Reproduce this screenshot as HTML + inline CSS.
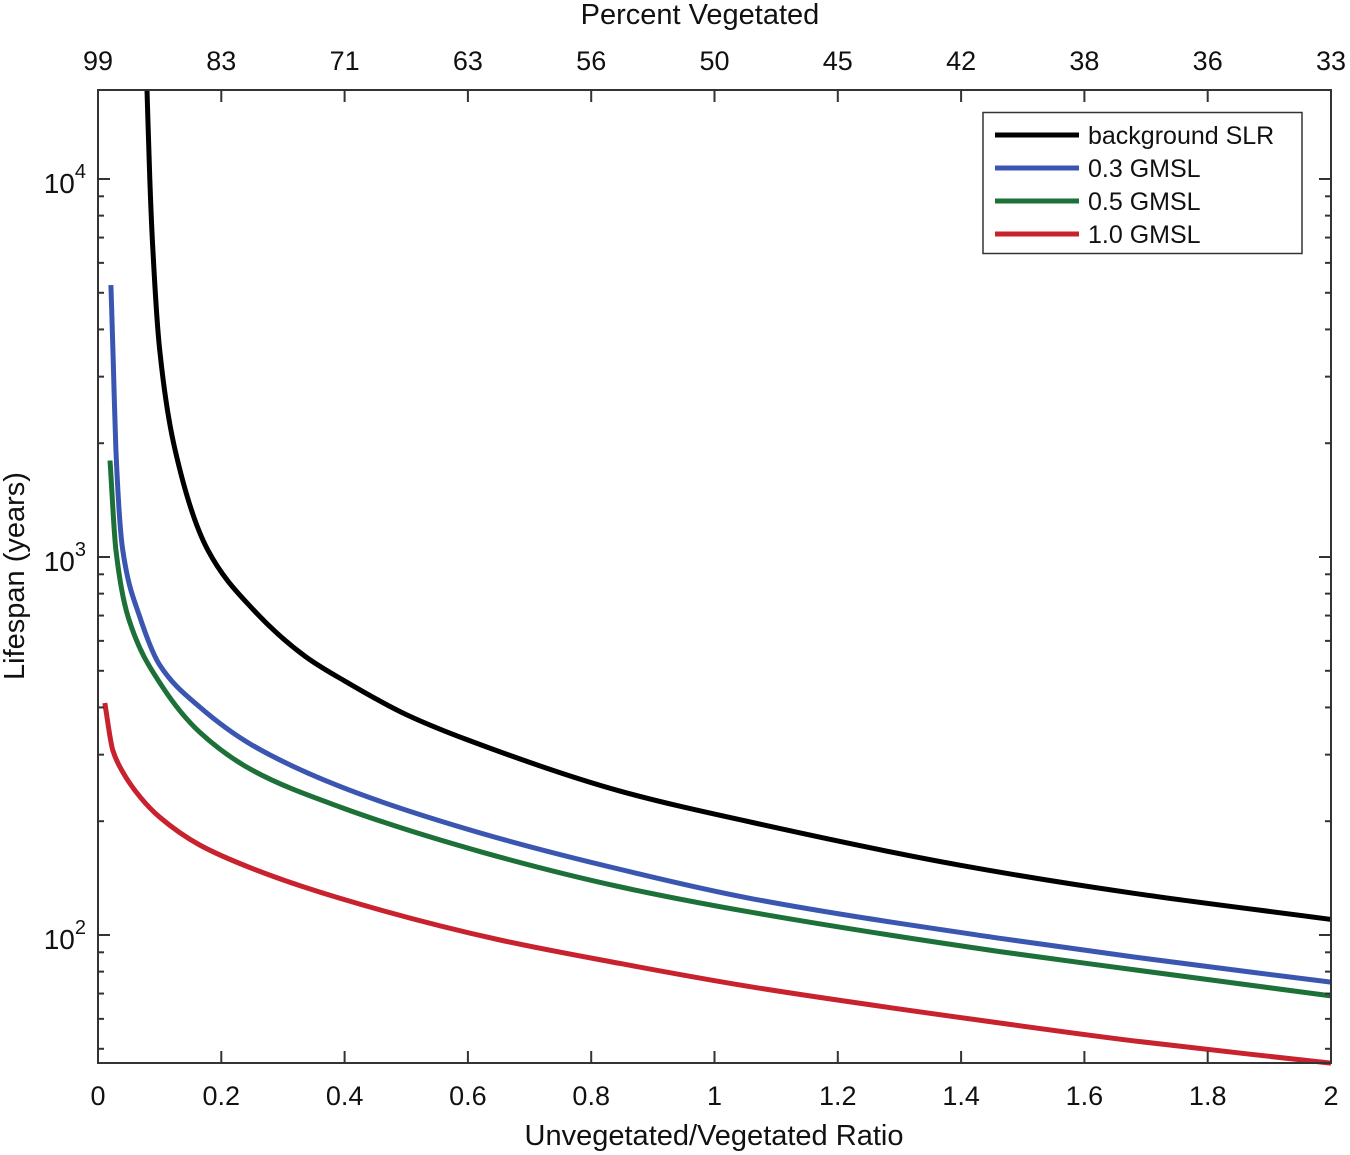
<!DOCTYPE html>
<html><head><meta charset="utf-8"><style>
html,body{margin:0;padding:0;background:#fff;}
svg{display:block;font-family:"Liberation Sans",Arial,sans-serif;}
</style></head><body>
<svg id="chart" width="1350" height="1155" viewBox="0 0 1350 1155" xmlns="http://www.w3.org/2000/svg">
<rect x="0" y="0" width="1350" height="1155" fill="#fff"/>
<g id="series-layer"></g>
<g id="axes-layer"></g>
<text x="700" y="24" font-size="29" text-anchor="middle" fill="#111">Percent Vegetated</text>
<text x="714" y="1145" font-size="29" text-anchor="middle" fill="#111">Unvegetated/Vegetated Ratio</text>
<text transform="translate(24,576) rotate(-90)" font-size="29" text-anchor="middle" fill="#111">Lifespan (years)</text>
<g>
<rect x="983" y="112.5" width="319" height="141" fill="#fff" stroke="#333" stroke-width="1.5"/>
<line x1="995" y1="135" x2="1079" y2="135" stroke="#000" stroke-width="5"/>
<text x="1088" y="144" font-size="25" fill="#111">background SLR</text>
<line x1="995" y1="168" x2="1079" y2="168" stroke="#3a56b0" stroke-width="5"/>
<text x="1088" y="177" font-size="25" fill="#111">0.3 GMSL</text>
<line x1="995" y1="201" x2="1079" y2="201" stroke="#1c7038" stroke-width="5"/>
<text x="1088" y="210" font-size="25" fill="#111">0.5 GMSL</text>
<line x1="995" y1="234" x2="1079" y2="234" stroke="#c8222e" stroke-width="5"/>
<text x="1088" y="243" font-size="25" fill="#111">1.0 GMSL</text>
</g>
</svg>
<script>
const xTicks = [0,0.2,0.4,0.6,0.8,1,1.2,1.4,1.6,1.8,2];
const xTickLabels = ["0","0.2","0.4","0.6","0.8","1","1.2","1.4","1.6","1.8","2"];
const topTickLabels = ["99","83","71","63","56","50","45","42","38","36","33"];
const yDecades = [2,3,4];
const bgX = [0.0795,0.084,0.089,0.1,0.125,0.178,0.25,0.336,0.4,0.5,0.6,0.848,1.058,1.398,1.679,2.0];
const bgY = [17200,10000,6490,3530,1920,1045,731,546,470,383,328,240,199,153,129,110];
const g03X = [0.021,0.025,0.029,0.04,0.068,0.1,0.165,0.25,0.393,0.621,0.848,1.058,1.463,1.679,2.0];
const g03Y = [5240,3185,1920,1045,693,518,401,318,247,186,149,125,98,87.5,75];
const g05X = [0.0195,0.029,0.049,0.104,0.165,0.25,0.393,0.621,0.848,1.058,1.463,1.679,2.0];
const g05Y = [1800,1045,693,455,344,273,218,166,134,115,90.4,81,69];
const g10X = [0.011,0.024,0.04,0.07,0.1,0.165,0.25,0.393,0.652,0.848,1.058,1.463,1.679,2.0];
const g10Y = [411,308,270,230,205,173,150,125,97,84,73,58.5,52.5,45.8];

const L=98,R=1331,T=90,B=1063;
const NS="http://www.w3.org/2000/svg";
function sx(v){return L+(v-0)/(2-0)*(R-L);}
const Y4=179, PX_DEC=378;
function sy(v){return Y4-(Math.log10(v)-4)*PX_DEC;}
function mk(tag,attrs,parent){const e=document.createElementNS(NS,tag);for(const k in attrs)e.setAttribute(k,attrs[k]);parent.appendChild(e);return e;}
const axes=document.getElementById('axes-layer');
const series=document.getElementById('series-layer');

const frame=mk('rect',{x:L,y:T,width:R-L,height:B-T,fill:'none',stroke:'#333','stroke-width':2},axes);



xTicks.forEach((v,i)=>{
  const x=sx(v);
  const t1=mk('line',{x1:x,y1:B,x2:x,y2:B-12,stroke:'#333','stroke-width':2},axes);
  
  
  const t2=mk('line',{x1:x,y1:T,x2:x,y2:T+12,stroke:'#333','stroke-width':2},axes);
  
  
  const lb=mk('text',{x:x,y:1105,'font-size':27,'text-anchor':'middle',fill:'#111'},axes);
  lb.textContent=xTickLabels[i];
  
  
  const tl=mk('text',{x:x,y:70,'font-size':27,'text-anchor':'middle',fill:'#111'},axes);
  tl.textContent=topTickLabels[i];
  
  
});

for(let d=1; d<=4; d++){
  for(let m=1;m<=9;m++){
    const v=m*Math.pow(10,d);
    const y=sy(v);
    if(y<T+1||y>B-1)continue;
    const len=m===1?12:6;
    const a=mk('line',{x1:L,y1:y,x2:L+len,y2:y,stroke:'#333','stroke-width':2},axes);
    
    
    const b=mk('line',{x1:R,y1:y,x2:R-len,y2:y,stroke:'#333','stroke-width':2},axes);
    
    
  }
}
yDecades.forEach(d=>{
  const y=sy(Math.pow(10,d));
  const t=mk('text',{x:86,y:y+14,'font-size':28,'text-anchor':'end',fill:'#111'},axes);
  
  
  t.textContent='10';
  const s=mk('tspan',{dy:-15,'font-size':20},t);
  s.textContent=String(d);
});

function drawLine(xs,ys,color,name){
  const P=xs.map((x,i)=>[sx(x),sy(ys[i])]);
  const n=P.length, sec=[], tan=[];
  for(let i=0;i<n-1;i++) sec.push((P[i+1][1]-P[i][1])/(P[i+1][0]-P[i][0]));
  for(let i=0;i<n;i++){
    if(i===0) tan.push(sec[0]);
    else if(i===n-1) tan.push(sec[n-2]);
    else {
      const a=sec[i-1], b=sec[i];
      if(a*b<=0) tan.push(0);
      else {
        const h0=P[i][0]-P[i-1][0], h1=P[i+1][0]-P[i][0];
        const w1=2*h1+h0, w2=h1+2*h0;
        tan.push((w1+w2)/(w1/a+w2/b));
      }
    }
  }
  let d='M'+P[0][0].toFixed(1)+','+P[0][1].toFixed(1);
  for(let i=0;i<n-1;i++){
    const h=(P[i+1][0]-P[i][0])/3;
    d+=' C'+(P[i][0]+h).toFixed(1)+','+(P[i][1]+h*tan[i]).toFixed(1)+' '+(P[i+1][0]-h).toFixed(1)+','+(P[i+1][1]-h*tan[i+1]).toFixed(1)+' '+P[i+1][0].toFixed(1)+','+P[i+1][1].toFixed(1);
  }
  const p=mk('path',{d:d,fill:'none',stroke:color,'stroke-width':5,'stroke-linejoin':'round'},series);
  
  
}
const clip=mk('clipPath',{id:'plotclip'},document.getElementById('chart'));
mk('rect',{x:L,y:T,width:R-L,height:B-T+3},clip);
series.setAttribute('clip-path','url(#plotclip)');
drawLine(bgX,bgY,'#000','line-background-slr');
drawLine(g03X,g03Y,'#3a56b0','line-0-3-gmsl');
drawLine(g05X,g05Y,'#1c7038','line-0-5-gmsl');
drawLine(g10X,g10Y,'#c8222e','line-1-0-gmsl');
</script>
</body></html>
